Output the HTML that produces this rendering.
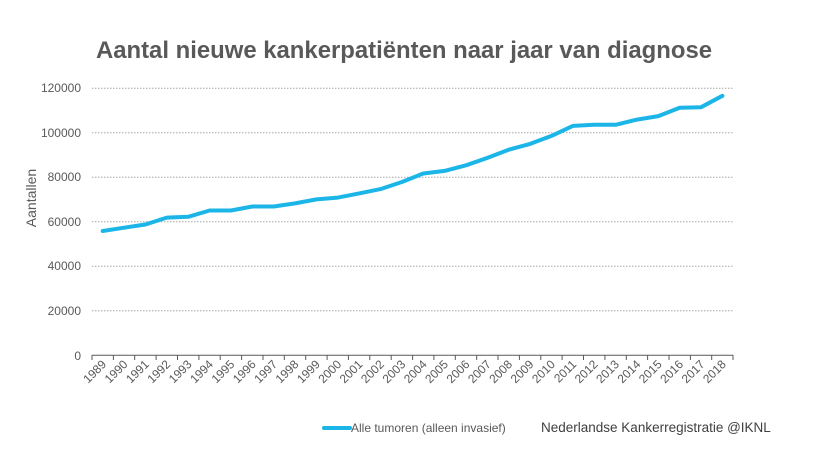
<!DOCTYPE html>
<html><head><meta charset="utf-8"><style>body{margin:0;background:#fff}svg{display:block}</style></head>
<body>
<svg width="822" height="468" xmlns="http://www.w3.org/2000/svg" font-family="Liberation Sans, Arial, sans-serif">
<rect width="822" height="468" fill="#fff"/>
<text x="404" y="58" text-anchor="middle" font-size="23.9" font-weight="bold" fill="#595959">Aantal nieuwe kankerpatiënten naar jaar van diagnose</text>
<g stroke="#a6a6a6" stroke-width="1" stroke-dasharray="1.5,1.5">
<line x1="92" x2="733" y1="88.3" y2="88.3"/><line x1="92" x2="733" y1="132.8" y2="132.8"/><line x1="92" x2="733" y1="177.3" y2="177.3"/><line x1="92" x2="733" y1="221.8" y2="221.8"/><line x1="92" x2="733" y1="266.3" y2="266.3"/><line x1="92" x2="733" y1="310.8" y2="310.8"/>
</g>
<g font-size="12" fill="#595959" text-anchor="end">
<text x="81" y="92">120000</text><text x="81" y="137">100000</text><text x="81" y="181">80000</text><text x="81" y="226">60000</text><text x="81" y="270">40000</text><text x="81" y="315">20000</text><text x="81" y="360">0</text>
</g>
<text transform="translate(36,198) rotate(-90)" text-anchor="middle" font-size="14" fill="#595959">Aantallen</text>
<line x1="92" x2="733" y1="355.3" y2="355.3" stroke="#595959" stroke-width="1"/>
<g stroke="#595959" stroke-width="1">
<path d="M92 355v5M113.4 355v5M134.7 355v5M156.1 355v5M177.5 355v5M198.9 355v5M220.2 355v5M241.6 355v5M263 355v5M284.3 355v5M305.7 355v5M327.1 355v5M348.4 355v5M369.8 355v5M391.2 355v5M412.6 355v5M433.9 355v5M455.3 355v5M476.7 355v5M498 355v5M519.4 355v5M540.8 355v5M562.1 355v5M583.5 355v5M604.9 355v5M626.3 355v5M647.6 355v5M669 355v5M690.4 355v5M711.7 355v5M733 355v5"/>
</g>
<polyline fill="none" stroke="#1cb5e8" stroke-width="4" stroke-linejoin="round" stroke-linecap="round" points="102.7,231 124.1,227.7 145.4,224.5 166.8,217.6 188.2,216.8 209.6,210.5 230.9,210.5 252.3,206.5 273.7,206.5 295,203.4 316.4,199.4 337.8,197.6 359.1,193.4 380.5,189.1 401.9,182 423.3,173.5 444.6,170.9 466,165.3 487.4,157.9 508.7,149.7 530.1,143.9 551.5,135.9 572.8,125.9 594.2,124.8 615.6,124.8 637,119.6 658.3,116.1 679.7,107.8 701.1,107.2 722.4,95.8"/>
<g font-size="12" fill="#595959" text-anchor="end">
<text transform="translate(107,365) rotate(-45)">1989</text>
<text transform="translate(128.4,365) rotate(-45)">1990</text>
<text transform="translate(149.7,365) rotate(-45)">1991</text>
<text transform="translate(171.1,365) rotate(-45)">1992</text>
<text transform="translate(192.5,365) rotate(-45)">1993</text>
<text transform="translate(213.9,365) rotate(-45)">1994</text>
<text transform="translate(235.2,365) rotate(-45)">1995</text>
<text transform="translate(256.6,365) rotate(-45)">1996</text>
<text transform="translate(278,365) rotate(-45)">1997</text>
<text transform="translate(299.3,365) rotate(-45)">1998</text>
<text transform="translate(320.7,365) rotate(-45)">1999</text>
<text transform="translate(342.1,365) rotate(-45)">2000</text>
<text transform="translate(363.4,365) rotate(-45)">2001</text>
<text transform="translate(384.8,365) rotate(-45)">2002</text>
<text transform="translate(406.2,365) rotate(-45)">2003</text>
<text transform="translate(427.6,365) rotate(-45)">2004</text>
<text transform="translate(448.9,365) rotate(-45)">2005</text>
<text transform="translate(470.3,365) rotate(-45)">2006</text>
<text transform="translate(491.7,365) rotate(-45)">2007</text>
<text transform="translate(513,365) rotate(-45)">2008</text>
<text transform="translate(534.4,365) rotate(-45)">2009</text>
<text transform="translate(555.8,365) rotate(-45)">2010</text>
<text transform="translate(577.1,365) rotate(-45)">2011</text>
<text transform="translate(598.5,365) rotate(-45)">2012</text>
<text transform="translate(619.9,365) rotate(-45)">2013</text>
<text transform="translate(641.3,365) rotate(-45)">2014</text>
<text transform="translate(662.6,365) rotate(-45)">2015</text>
<text transform="translate(684,365) rotate(-45)">2016</text>
<text transform="translate(705.4,365) rotate(-45)">2017</text>
<text transform="translate(726.7,365) rotate(-45)">2018</text>
</g>
<line x1="324" x2="350" y1="428" y2="428" stroke="#1cb5e8" stroke-width="4" stroke-linecap="round"/>
<text x="351" y="432" font-size="12" fill="#595959">Alle tumoren (alleen invasief)</text>
<text x="541" y="432" font-size="13.5" fill="#404040">Nederlandse Kankerregistratie @IKNL</text>
</svg>
</body></html>
